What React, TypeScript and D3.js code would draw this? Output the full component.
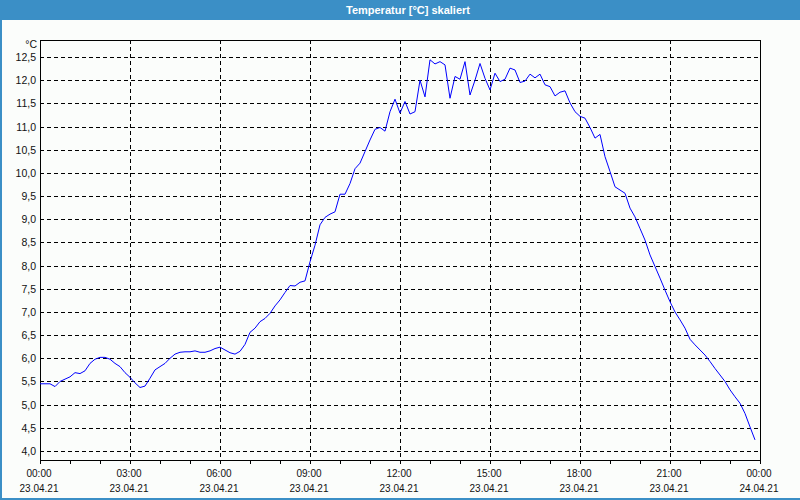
import React, { useEffect, useRef } from 'react';
import * as d3 from 'd3';

// Temperature readings, 10-minute steps from 23.04.21 00:00
const START = new Date(2021, 3, 23, 0, 0);
const STEP_MINUTES = 10;
const temps = [
  5.45, 5.45, 5.45, 5.39, 5.5, 5.55, 5.6, 5.69, 5.67, 5.73,
  5.89, 5.98, 6.02, 6.02, 5.98, 5.89, 5.82, 5.69, 5.59, 5.47,
  5.37, 5.4, 5.57, 5.75, 5.82, 5.89, 6.0, 6.09, 6.13, 6.14,
  6.14, 6.16, 6.13, 6.13, 6.16, 6.21, 6.24, 6.18, 6.12, 6.09,
  6.15, 6.3, 6.56, 6.65, 6.79, 6.86, 6.97, 7.13, 7.26, 7.42,
  7.57, 7.56, 7.64, 7.67, 8.08, 8.44, 8.88, 9.04, 9.11, 9.16,
  9.54, 9.54, 9.77, 10.09, 10.21, 10.46, 10.71, 10.94, 10.98, 10.9,
  11.32, 11.59, 11.29, 11.54, 11.27, 11.32, 12.0, 11.64, 12.44, 12.35,
  12.4, 12.33, 11.61, 12.08, 12.02, 12.4, 11.68, 12.0, 12.36, 12.04,
  11.79, 12.15, 11.97, 12.02, 12.26, 12.22, 11.95, 11.98, 12.13, 12.05,
  12.13, 11.9, 11.86, 11.66, 11.74, 11.77, 11.51, 11.32, 11.22, 11.18,
  10.98, 10.75, 10.83, 10.35, 10.03, 9.7, 9.63, 9.56, 9.24, 9.05,
  8.8, 8.55, 8.23, 7.98, 7.73, 7.47, 7.22, 7.0, 6.83, 6.65,
  6.41, 6.29, 6.18, 6.07, 5.93, 5.78, 5.64, 5.5, 5.32, 5.17,
  5.03, 4.81, 4.52, 4.24,
];

const yTicks = [4.0, 4.5, 5.0, 5.5, 6.0, 6.5, 7.0, 7.5, 8.0, 8.5, 9.0, 9.5, 10.0, 10.5, 11.0, 11.5, 12.0, 12.5];
const xTickHours = [0, 3, 6, 9, 12, 15, 18, 21, 24];
const title = 'Temperatur [°C] skaliert';
const unit = '°C';

export default function App() {
  const svgRef = useRef<SVGSVGElement>(null);

  useEffect(() => {
    document.body.style.margin = '0';
    if (!svgRef.current) return;
    const svg = d3.select(svgRef.current);
    svg.selectAll('*').remove();

    const W = 800;
    const H = 500;
    const plot = { left: 40, right: 760, top: 40, bottom: 460 };
    const font = '"Liberation Sans", Arial, sans-serif';
    const textColor = '#111';

    svg.attr('width', W).attr('height', H);

    // window background + frame
    svg.append('rect').attr('width', W).attr('height', H).attr('fill', '#fbfdfb');
    svg.append('rect').attr('x', 0).attr('y', 0).attr('width', W).attr('height', 20).attr('fill', '#3b8fc6');
    svg.append('rect').attr('x', 0).attr('y', 20).attr('width', 2).attr('height', H - 20).attr('fill', '#3b8fc6');
    svg.append('rect').attr('x', 0).attr('y', H - 2).attr('width', W).attr('height', 2).attr('fill', '#3b8fc6');

    svg.append('text')
      .attr('x', 408)
      .attr('y', 14)
      .attr('text-anchor', 'middle')
      .style('font-family', font)
      .style('font-size', '11px')
      .style('font-weight', 'bold')
      .style('fill', '#ffffff')
      .text(title);

    const end = d3.timeHour.offset(START, 24);
    const x = d3.scaleTime().domain([START, end]).range([plot.left, plot.right]);
    const y = d3.scaleLinear().domain([4.0, 12.5]).range([451, 57]);

    const px = (v: number) => Math.round(v) + 0.5;

    // horizontal grid
    svg.append('g')
      .selectAll('line')
      .data(yTicks)
      .enter()
      .append('line')
      .attr('x1', plot.left)
      .attr('x2', plot.right)
      .attr('y1', (d) => px(y(d)))
      .attr('y2', (d) => px(y(d)))
      .attr('stroke', '#000')
      .attr('stroke-dasharray', '4,3')
      .attr('shape-rendering', 'crispEdges');

    // vertical grid
    svg.append('g')
      .selectAll('line')
      .data(xTickHours.slice(1, -1))
      .enter()
      .append('line')
      .attr('x1', (d) => px(x(d3.timeHour.offset(START, d))))
      .attr('x2', (d) => px(x(d3.timeHour.offset(START, d))))
      .attr('y1', plot.top)
      .attr('y2', plot.bottom + 4)
      .attr('stroke', '#000')
      .attr('stroke-dasharray', '4,3')
      .attr('shape-rendering', 'crispEdges');

    // hourly ticks
    svg.append('g')
      .selectAll('line')
      .data(d3.range(0, 25))
      .enter()
      .append('line')
      .attr('x1', (d) => px(x(d3.timeHour.offset(START, d))))
      .attr('x2', (d) => px(x(d3.timeHour.offset(START, d))))
      .attr('y1', plot.bottom)
      .attr('y2', plot.bottom + 4)
      .attr('stroke', '#000')
      .attr('shape-rendering', 'crispEdges');

    // plot frame
    svg.append('rect')
      .attr('x', plot.left + 0.5)
      .attr('y', plot.top + 0.5)
      .attr('width', plot.right - plot.left)
      .attr('height', plot.bottom - plot.top)
      .attr('fill', 'none')
      .attr('stroke', '#000')
      .attr('shape-rendering', 'crispEdges');

    // y labels
    svg.append('g')
      .selectAll('text')
      .data(yTicks)
      .enter()
      .append('text')
      .attr('x', 36)
      .attr('y', (d) => y(d) + 4)
      .attr('text-anchor', 'end')
      .style('font-family', font)
      .style('font-size', '10.5px')
      .style('fill', textColor)
      .text((d) => d3.format('.1f')(d).replace('.', ','));

    svg.append('text')
      .attr('x', 37)
      .attr('y', 48)
      .attr('text-anchor', 'end')
      .style('font-family', font)
      .style('font-size', '10.5px')
      .style('fill', textColor)
      .text(unit);

    // x labels
    const xl = svg.append('g')
      .selectAll('g')
      .data(xTickHours)
      .enter()
      .append('g')
      .attr('transform', (d) => `translate(${x(d3.timeHour.offset(START, d)) - 1},0)`);
    xl.append('text')
      .attr('y', 477)
      .attr('text-anchor', 'middle')
      .style('font-family', font)
      .style('font-size', '10px')
      .style('fill', textColor)
      .text((d) => d3.timeFormat('%H:%M')(d3.timeHour.offset(START, d)));
    xl.append('text')
      .attr('y', 492)
      .attr('text-anchor', 'middle')
      .style('font-family', font)
      .style('font-size', '10px')
      .style('fill', textColor)
      .text((d) => d3.timeFormat('%d.%m.%y')(d3.timeHour.offset(START, d)));

    // temperature line
    const line = d3
      .line<number>()
      .x((_, i) => x(d3.timeMinute.offset(START, i * STEP_MINUTES)))
      .y((d) => y(d));

    svg.append('path')
      .datum(temps)
      .attr('d', line)
      .attr('fill', 'none')
      .attr('stroke', '#0000ff')
      .attr('stroke-width', 1);
  }, []);

  return (
    <div style={{ position: 'absolute', left: 0, top: 0 }}>
      <svg ref={svgRef}></svg>
    </div>
  );
}
